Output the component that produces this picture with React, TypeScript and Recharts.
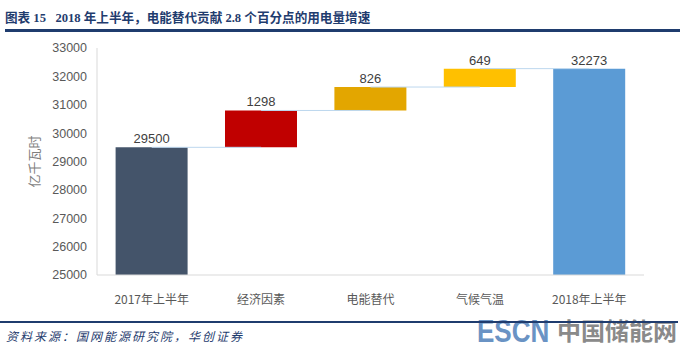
import React from 'react';
import { BarChart, Bar, XAxis, YAxis, Cell, LabelList, ReferenceLine, Label } from 'recharts';

const categories = ['2017年上半年', '经济因素', '电能替代', '气候气温', '2018年上半年'];
const deltas = [29500, 1298, 826, 649, 32273];
const isTotal = [true, false, false, false, true];
const barColors = ['#44546A', '#C00000', '#E3A600', '#FFC000', '#5B9BD5'];
const yTicks = [25000, 26000, 27000, 28000, 29000, 30000, 31000, 32000, 33000];
const axisMin = 25000;
const axisMax = 33000;

const data = (() => {
  let cum = 0;
  return categories.map((name, i) => {
    let range: [number, number];
    if (isTotal[i]) {
      cum = deltas[i];
      range = [axisMin, deltas[i]];
    } else {
      range = [cum, cum + deltas[i]];
      cum += deltas[i];
    }
    return { name, range, delta: deltas[i], level: cum };
  });
})();

const NAVY = '#1F3C6E';

export default function App() {
  return (
    <div style={{ position: 'absolute', left: 0, top: 0, width: 684, height: 348, background: '#fff', overflow: 'hidden' }}>
      <div style={{ position: 'absolute', left: 5, top: 7, fontFamily: '"Liberation Serif", "Noto Sans CJK SC", serif', fontWeight: 'bold', fontSize: 12.6, color: NAVY, whiteSpace: 'pre' }}>
        {'图表 15   2018 年上半年，电能替代贡献 2.8 个百分点的用电量增速'}
      </div>
      <div style={{ position: 'absolute', left: 5, top: 29, width: 675, height: 3, background: NAVY }} />
      <div style={{ position: 'absolute', left: 0, top: 0 }}>
        <BarChart width={684} height={310} data={data} margin={{ top: 48, right: 40, left: 0, bottom: 5 }} barCategoryGap="17%">
          <XAxis
            dataKey="name"
            axisLine={{ stroke: '#D9D9D9' }}
            tickLine={false}
            tickMargin={14}
            height={30}
            tick={{ fill: '#595959', fontSize: 12, fontFamily: '"Noto Sans CJK SC", sans-serif' }}
          />
          <YAxis
            type="number"
            domain={[axisMin, axisMax]}
            ticks={yTicks}
            allowDataOverflow
            width={97}
            axisLine={{ stroke: '#D9D9D9' }}
            tickLine={false}
            tickSize={0}
            tickMargin={10}
            tick={{ fill: '#595959', fontSize: 12.5, fontFamily: '"Liberation Sans", Arial, sans-serif' }}
          >
            <Label
              value="亿千瓦时"
              angle={-90}
              position="insideLeft"
              offset={34}
              style={{ fill: '#7F7F7F', fontSize: 13, fontFamily: '"Noto Sans CJK SC", sans-serif', textAnchor: 'middle' }}
            />
          </YAxis>
          {data.slice(0, -1).map((d, i) => (
            <ReferenceLine
              key={i}
              segment={[{ x: d.name, y: d.level }, { x: data[i + 1].name, y: d.level }]}
              stroke="#BDD7EE"
              strokeWidth={1}
            />
          ))}
          <Bar dataKey="range" isAnimationActive={false}>
            {data.map((d, i) => (
              <Cell key={i} fill={barColors[i]} />
            ))}
            <LabelList
              dataKey="delta"
              position="top"
              offset={4}
              style={{ fill: '#404040', fontSize: 13, fontFamily: '"Liberation Sans", Arial, sans-serif' }}
            />
          </Bar>
        </BarChart>
      </div>
      <div style={{ position: 'absolute', left: 477, top: 316, fontFamily: '"Liberation Sans", Arial, sans-serif', fontWeight: 'bold', fontSize: 31, lineHeight: '31px', color: '#6A93C4', transform: 'scaleX(0.84)', transformOrigin: 'left top' }}>
        ESCN
      </div>
      <div style={{ position: 'absolute', left: 557, top: 315, fontFamily: '"Noto Sans CJK SC", sans-serif', fontWeight: 'bold', fontSize: 24, color: '#8A8A8A', lineHeight: '30px' }}>
        中国储能网
      </div>
      <div style={{ position: 'absolute', left: 0, top: 321, width: 678, height: 2, background: NAVY }} />
      <div style={{ position: 'absolute', left: 6, top: 327, fontFamily: '"Noto Sans CJK SC", sans-serif', fontStyle: 'italic', fontSize: 12, letterSpacing: 2, color: NAVY }}>
        资料来源：国网能源研究院，华创证券
      </div>
    </div>
  );
}
